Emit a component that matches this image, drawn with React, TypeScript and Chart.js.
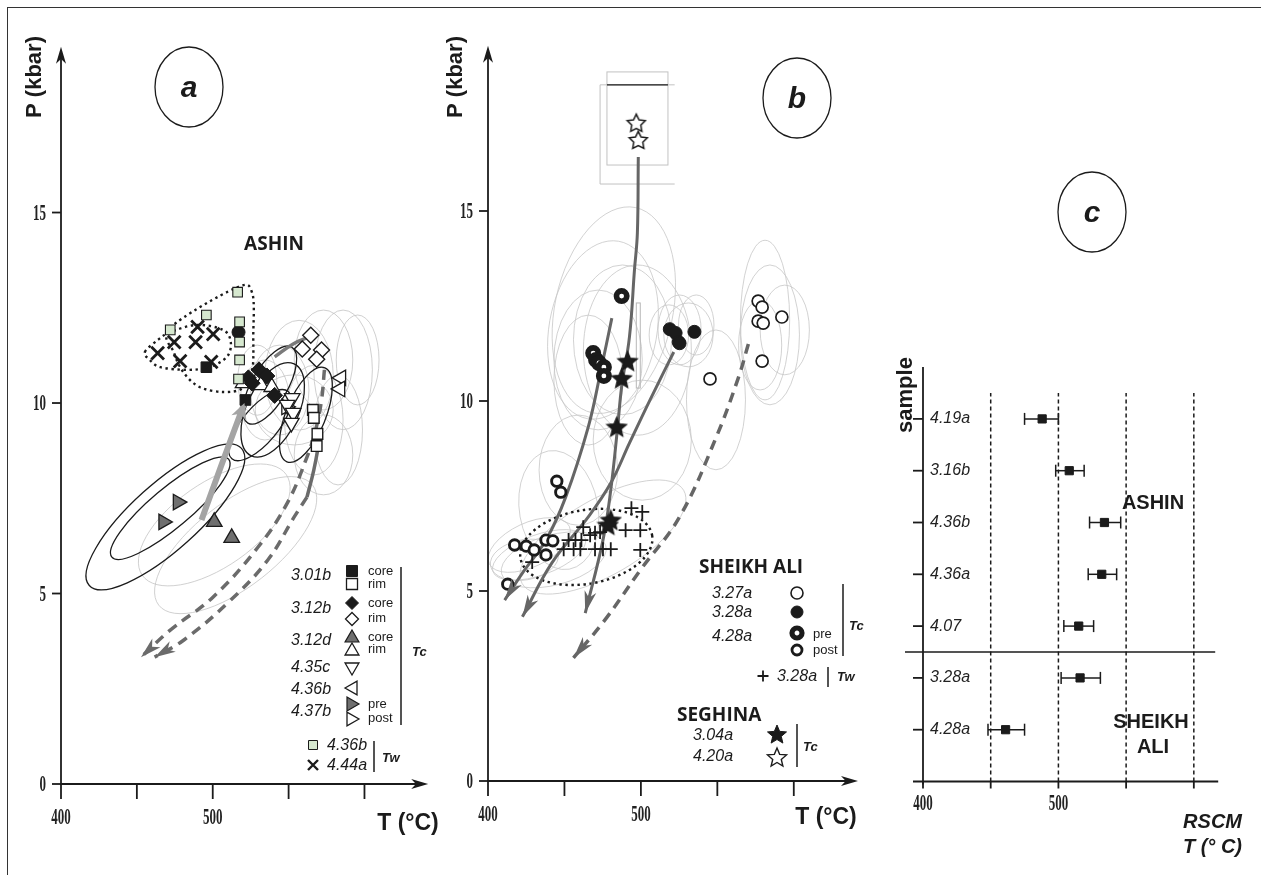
import React, { useEffect, useRef } from "react";
import { Chart, registerables } from "chart.js";

Chart.register(...registerables);

type Pt = [number, number];
type Ell = [number, number, number, number, number]; // T, P, rT(°C), rP(kbar), angle(deg)

/* ---------------- shared axis ticks ---------------- */
const abXTicks = [400, 450, 500, 550, 600];
const abXTickLabels = ["400", "", "500", "", ""];
const abYTicks = [0, 5, 10, 15];
const abYTickLabels = ["0", "5", "10", "15"];

/* ---------------- panel a : ASHIN ---------------- */
const a301bCore: Pt[] = [[495.8, 10.94], [521.5, 10.08]];
const a301bRim: Pt[] = [[566, 9.82], [566.6, 9.61], [569, 9.19], [568.5, 8.87]];
const a312bCore: Pt[] = [[523.5, 10.66], [530.5, 10.87], [535.7, 10.71], [526, 10.52], [540.8, 10.2]];
const a312bRim: Pt[] = [[564.6, 11.78], [559, 11.42], [571.7, 11.39], [568.5, 11.15]];
const a312dCore: Pt[] = [[501, 6.88], [512.5, 6.46]];
const a312dRim: Pt[] = [[520, 10.52], [531.8, 10.47], [538.9, 10.42]];
const a435c: Pt[] = [[552.4, 10.13], [549, 9.95], [553, 9.74], [551.8, 9.48]];
const a436b: Pt[] = [[584.6, 10.66], [584, 10.37]];
const a437bPre: Pt[] = [[477, 7.4], [467.5, 6.88]];
const a437bPost: Pt[] = [[548.5, 9.9]];
const a436bTw: Pt[] = [[516.4, 12.91], [495.8, 12.31], [472, 11.92], [517.7, 12.13], [517.7, 11.6], [517.7, 11.13], [517, 10.63]];
const a444aTw: Pt[] = [[463.7, 11.31], [474.6, 11.6], [490, 12.0], [488.7, 11.6], [500.3, 11.81], [478.5, 11.1], [499, 11.08]];
const aOtherFilled: Pt[] = [[517, 11.86]];

const aPathPrePost: Pt[] = [[492.6, 6.93], [506, 8.4], [520.9, 10.0]];
const aPathDarkShort: Pt[] = [[540.8, 11.21], [553, 11.55], [565.3, 11.76]];
const aPathSolid: Pt[] = [[570.4, 9.03], [566.6, 8.24], [562.1, 7.53]];
const aPathDash1: Pt[] = [[562.1, 7.53], [553.7, 7.01], [536.3, 5.88], [510.6, 4.78], [481, 3.78], [461.7, 3.33]];
const aPathDash2: Pt[] = [[573.6, 10.87], [571.7, 10.08], [567.8, 9.29], [562.1, 8.58], [549.2, 7.38], [529.9, 6.22], [500.3, 4.91], [472, 4.04], [452.7, 3.33]];

const aEllBlack: Ell[] = [
  [468.8, 7.01, 67.5, 0.87, 42],
  [472, 7.24, 50.2, 0.52, 40],
  [537.6, 10.47, 28.9, 0.47, 60],
  [539.5, 9.82, 33.4, 0.68, 65],
  [561.4, 9.69, 33.4, 0.52, 68],
  [531.2, 9.42, 28.9, 0.47, 50],
];
const aEllGray: Ell[] = [
  [556.9, 10.73, 22.5, 1.44, 0],
  [573.0, 11.13, 19.3, 1.31, 0],
  [585.9, 10.87, 19.3, 1.57, 0],
  [544.1, 10.34, 19.3, 1.18, 0],
  [534.4, 10.08, 16.1, 1.05, 0],
  [566.6, 9.55, 19.3, 1.44, 0],
  [582.6, 9.29, 16.1, 1.44, 0],
  [595.5, 11.13, 14.1, 1.18, 0],
  [529.3, 10.6, 12.9, 0.92, 0],
  [553.7, 9.82, 25.7, 0.92, 0],
  [573, 8.64, 19.3, 1.05, 0],
  [501, 6.8, 57.9, 1.1, 35],
  [515.1, 6.27, 64.3, 1.1, 38],
];
const aEnvOuter: Pt[] = [[472.0, 11.97], [515.1, 13.02], [526.0, 12.89], [526.7, 11.73], [526.0, 10.87], [519.6, 10.39], [506.8, 10.29], [491.3, 10.42], [481.0, 10.79], [474.6, 11.31]];
const aEnvInner: Pt[] = [[455.3, 11.34], [463.7, 11.65], [472.0, 11.86], [489.4, 12.05], [506.8, 11.92], [511.9, 11.6], [509.3, 11.21], [497.7, 10.94], [483.0, 10.87], [465.6, 10.94], [458.5, 11.13]];

/* ---------------- panel b : SHEIKH ALI / SEGHINA ---------------- */
const b327a: Pt[] = [[576.7, 12.63], [579.3, 12.47], [576.7, 12.1], [580, 12.05], [592.2, 12.21], [579.3, 11.05], [545.2, 10.58]];
const b328a: Pt[] = [[518.9, 11.89], [522.7, 11.79], [524.7, 11.55], [525.3, 11.52], [535, 11.82]];
const b428aPre: Pt[] = [[487.4, 12.76], [468.8, 11.26], [470.7, 11.08], [472.6, 11.0], [475.8, 10.89], [475.8, 10.66]];
const b428aPost: Pt[] = [[445, 7.89], [447.6, 7.6], [417.4, 6.21], [425, 6.18], [430.2, 6.08], [437.9, 5.95], [437.9, 6.34], [442.4, 6.32], [412.9, 5.18]];
const b328aTw: Pt[] = [
  [462.3, 6.68], [466.8, 6.47], [470, 6.53], [473.3, 6.55], [452.7, 6.34], [457.2, 6.34], [461.1, 6.34],
  [449.5, 6.1], [456, 6.1], [460.4, 6.1], [470, 6.1], [475.2, 6.1], [480.3, 6.1], [490, 6.6], [499.6, 6.6],
  [493.8, 7.18], [500.9, 7.08], [499.6, 6.08], [428.9, 5.76],
];
const b304a: Pt[] = [[491.3, 11.05], [487.4, 10.6], [484.2, 9.32], [480.3, 6.87], [478.4, 6.74]];
const b420a: Pt[] = [[497, 17.32], [498.3, 16.87]];

const bPath1: Pt[] = [[481.0, 12.18], [473.9, 10.82], [465.6, 9.32], [450.8, 7.47], [437.9, 6.34], [422.5, 5.47], [410.9, 4.76]];
const bPath2: Pt[] = [[498.3, 16.42], [497.7, 14.42], [495.8, 13.45], [492.5, 11.68], [487.4, 10.37], [484.8, 9.32], [480.3, 7.66], [475.2, 6.34], [463.6, 4.42]];
const bPath3: Pt[] = [[521.5, 11.29], [506.0, 10.03], [492.5, 8.89], [480.3, 7.84], [465.6, 6.95], [441.8, 5.74], [422.5, 4.32]];
const bPathDash: Pt[] = [[570.3, 11.5], [563.9, 10.63], [549.1, 9.03], [525.3, 6.95], [499.6, 5.55], [476.5, 4.24], [455.9, 3.24]];

const bEllDotted: Ell = [464.3, 6.16, 43.7, 0.97, 10];
const bEllGray: Ell[] = [
  [482.3, 12.39, 38.6, 2.76, -12],
  [475.2, 11.87, 35.3, 2.37, -10],
  [472, 11.08, 28.9, 1.84, 0],
  [488, 11.61, 32.1, 1.97, 0],
  [465.6, 10.55, 22.5, 1.71, 0],
  [497.7, 11.34, 35.3, 2.24, 0],
  [525.3, 11.87, 14.1, 0.92, 0],
  [531.1, 11.74, 16.1, 0.84, 0],
  [518.3, 11.74, 12.9, 0.79, 0],
  [536.2, 12.0, 11.6, 0.79, 0],
  [581.2, 12.13, 16.1, 2.1, 0],
  [584.4, 11.74, 19.3, 1.84, 0],
  [594.1, 11.87, 16.1, 1.18, 0],
  [578, 11.47, 14.1, 1.18, 0],
  [549.1, 10.03, 19.3, 1.84, 0],
  [500.9, 8.97, 32.1, 1.58, 0],
  [459.1, 8.18, 25.7, 1.45, 0],
  [433.4, 5.95, 32.1, 0.53, 20],
  [427, 6.21, 28.9, 0.58, 25],
  [443, 5.82, 35.3, 0.66, 15],
  [423.8, 5.82, 22.5, 0.53, 10],
  [475.2, 6.42, 61, 1.0, 30],
  [446.3, 7.13, 25.7, 1.58, 10],
];
const bBoxInner = { t0: 477.8, t1: 517.7, p0: 16.21, p1: 18.66 };
const bBoxOuter = { t0: 473.3, t1: 522.1, p0: 15.71, p1: 18.32 };
const bBar = { t0: 497, t1: 499.6, p0: 10.34, p1: 12.58 };

/* ---------------- panel c : RSCM ---------------- */
const cSamples = ["4.19a", "3.16b", "4.36b", "4.36a", "4.07", "3.28a", "4.28a"];
const cRows = [7, 6, 5, 4, 3, 2, 1];
const cT = [488, 508, 534, 532, 515, 516, 461];
const cTmin = [475, 498, 523, 522, 504, 502, 448];
const cTmax = [500, 519, 546, 543, 526, 531, 475];
const cXTicks = [400, 450, 500, 550, 600];
const cXTickLabels = ["400", "", "500", "", ""];
const cGridT = [450, 500, 550, 600];

/* ---------------- helpers ---------------- */
const SANS = '"Liberation Sans", Arial, sans-serif';
const OPEN = '"Open Sans", sans-serif';
const INK = "#1b1b1b";

const xy = (a: Pt[]) => a.map(([x, y]) => ({ x, y }));

function P(chart: any, t: number, p: number): [number, number] {
  return [chart.scales.x.getPixelForValue(t), chart.scales.y.getPixelForValue(p)];
}

function strokeEll(ctx: CanvasRenderingContext2D, chart: any, e: Ell) {
  const [t, p, rt, rp, ang] = e;
  const [cx, cy] = P(chart, t, p);
  const sx = Math.abs(chart.scales.x.getPixelForValue(t + rt) - cx);
  const sy = Math.abs(chart.scales.y.getPixelForValue(p + rp) - cy);
  ctx.beginPath();
  ctx.ellipse(cx, cy, sx, sy, (-ang * Math.PI) / 180, 0, Math.PI * 2);
  ctx.stroke();
}

function closedCurve(ctx: CanvasRenderingContext2D, pts: [number, number][]) {
  const n = pts.length;
  ctx.beginPath();
  ctx.moveTo(pts[0][0], pts[0][1]);
  for (let i = 0; i < n; i++) {
    const p0 = pts[(i - 1 + n) % n], p1 = pts[i], p2 = pts[(i + 1) % n], p3 = pts[(i + 2) % n];
    ctx.bezierCurveTo(
      p1[0] + (p2[0] - p0[0]) / 6, p1[1] + (p2[1] - p0[1]) / 6,
      p2[0] - (p3[0] - p1[0]) / 6, p2[1] - (p3[1] - p1[1]) / 6,
      p2[0], p2[1]
    );
  }
  ctx.closePath();
}

function arrowHead(ctx: CanvasRenderingContext2D, from: [number, number], tip: [number, number], len: number, half: number, color: string) {
  const dx = tip[0] - from[0], dy = tip[1] - from[1];
  const d = Math.hypot(dx, dy) || 1;
  const ux = dx / d, uy = dy / d, nx = -uy, ny = ux;
  const bx = tip[0] - ux * len, by = tip[1] - uy * len;
  const notch = len * 0.28;
  ctx.beginPath();
  ctx.moveTo(tip[0], tip[1]);
  ctx.lineTo(bx + nx * half, by + ny * half);
  ctx.lineTo(tip[0] - ux * (len - notch), tip[1] - uy * (len - notch));
  ctx.lineTo(bx - nx * half, by - ny * half);
  ctx.closePath();
  ctx.fillStyle = color;
  ctx.fill();
}

function pathArrow(ctx: CanvasRenderingContext2D, chart: any, path: Pt[], len: number, half: number, color: string) {
  const n = path.length;
  const a = P(chart, path[n - 2][0], path[n - 2][1]);
  const b = P(chart, path[n - 1][0], path[n - 1][1]);
  arrowHead(ctx, a, b, len, half, color);
}

function txt(ctx: CanvasRenderingContext2D, s: string, x: number, y: number, font: string, align: CanvasTextAlign = "left", color = INK) {
  ctx.font = font;
  ctx.textAlign = align;
  ctx.textBaseline = "middle";
  ctx.fillStyle = color;
  ctx.fillText(s, x, y);
}

function condText(ctx: CanvasRenderingContext2D, s: string, x: number, y: number, align: CanvasTextAlign) {
  ctx.save();
  ctx.translate(x, y);
  ctx.scale(0.54, 1);
  ctx.font = 'bold 24px "Liberation Serif", serif';
  ctx.textAlign = align;
  ctx.textBaseline = "middle";
  ctx.fillStyle = "#222";
  ctx.fillText(s, 0, 0);
  ctx.restore();
}

function seg(ctx: CanvasRenderingContext2D, x1: number, y1: number, x2: number, y2: number) {
  ctx.beginPath();
  ctx.moveTo(x1, y1);
  ctx.lineTo(x2, y2);
  ctx.stroke();
}

function shape(ctx: CanvasRenderingContext2D, kind: string, x: number, y: number, r: number, fill: string | null, stroke: string | null, lw: number, rot = 0) {
  ctx.save();
  ctx.translate(x, y);
  ctx.rotate((rot * Math.PI) / 180);
  ctx.beginPath();
  if (kind === "rect") ctx.rect(-r, -r, 2 * r, 2 * r);
  else if (kind === "diamond") { ctx.moveTo(0, -r); ctx.lineTo(r, 0); ctx.lineTo(0, r); ctx.lineTo(-r, 0); ctx.closePath(); }
  else if (kind === "tri") {
    for (let i = 0; i < 3; i++) {
      const a = -Math.PI / 2 + (i * 2 * Math.PI) / 3;
      if (i === 0) ctx.moveTo(r * Math.cos(a), r * Math.sin(a)); else ctx.lineTo(r * Math.cos(a), r * Math.sin(a));
    }
    ctx.closePath();
  } else if (kind === "circle") ctx.arc(0, 0, r, 0, Math.PI * 2);
  else if (kind === "star") {
    for (let i = 0; i < 10; i++) {
      const rr = i % 2 ? r * 0.45 : r;
      const a = -Math.PI / 2 + (i * Math.PI) / 5;
      if (i === 0) ctx.moveTo(rr * Math.cos(a), rr * Math.sin(a)); else ctx.lineTo(rr * Math.cos(a), rr * Math.sin(a));
    }
    ctx.closePath();
  } else if (kind === "x") { ctx.moveTo(-r, -r); ctx.lineTo(r, r); ctx.moveTo(r, -r); ctx.lineTo(-r, r); }
  else if (kind === "plus") { ctx.moveTo(-r, 0); ctx.lineTo(r, 0); ctx.moveTo(0, -r); ctx.lineTo(0, r); }
  if (fill) { ctx.fillStyle = fill; ctx.fill(); }
  if (stroke) { ctx.strokeStyle = stroke; ctx.lineWidth = lw; ctx.stroke(); }
  ctx.restore();
}

function starImage(size: number, fill: string, stroke: string, inner: number, lw: number) {
  const c = document.createElement("canvas");
  c.width = size;
  c.height = size;
  const ctx = c.getContext("2d")!;
  const R = size / 2 - lw;
  ctx.beginPath();
  for (let i = 0; i < 10; i++) {
    const rr = i % 2 ? R * inner : R;
    const a = -Math.PI / 2 + (i * Math.PI) / 5;
    const px = size / 2 + rr * Math.cos(a), py = size / 2 + 0.8 + rr * Math.sin(a);
    if (i === 0) ctx.moveTo(px, py); else ctx.lineTo(px, py);
  }
  ctx.closePath();
  ctx.fillStyle = fill;
  ctx.fill();
  ctx.lineWidth = lw;
  ctx.lineJoin = "miter";
  ctx.strokeStyle = stroke;
  ctx.stroke();
  return c;
}

function drawAxesAB(ctx: CanvasRenderingContext2D, chart: any) {
  const xs = chart.scales.x, ys = chart.scales.y;
  const x0 = xs.getPixelForValue(400), y0 = ys.getPixelForValue(0);
  ctx.save();
  ctx.strokeStyle = INK;
  ctx.lineWidth = 1.8;
  seg(ctx, x0, y0 + 1, x0, ys.top + 10);
  seg(ctx, x0 - 1, y0, xs.right - 10, y0);
  arrowHead(ctx, [x0, y0], [x0, ys.top], 17, 5, INK);
  arrowHead(ctx, [x0, y0], [xs.right, y0], 17, 5, INK);
  abYTicks.forEach((v, i) => {
    const y = ys.getPixelForValue(v);
    seg(ctx, x0 - 9, y, x0, y);
    condText(ctx, abYTickLabels[i], x0 - 15, y + 1, "right");
  });
  abXTicks.forEach((v, i) => {
    const x = xs.getPixelForValue(v);
    seg(ctx, x, y0, x, y0 + 15);
    if (abXTickLabels[i]) condText(ctx, abXTickLabels[i], x, y0 + 34, "center");
  });
  ctx.restore();
}

function ellipseLabel(ctx: CanvasRenderingContext2D, cx: number, cy: number, letter: string) {
  ctx.save();
  ctx.strokeStyle = INK;
  ctx.lineWidth = 1.3;
  ctx.beginPath();
  ctx.ellipse(cx, cy, 34, 40, 0, 0, Math.PI * 2);
  ctx.stroke();
  txt(ctx, letter, cx, cy + 2, `italic bold 30px ${SANS}`, "center");
  ctx.restore();
}

function baseOptions(xMax: number, yMax: number, padding: any) {
  return {
    responsive: false,
    animation: false,
    devicePixelRatio: 1,
    events: [],
    layout: { padding },
    plugins: { legend: { display: false }, tooltip: { enabled: false } },
    scales: {
      x: { type: "linear", min: 400, max: xMax, display: false },
      y: { type: "linear", min: 0, max: yMax, display: false },
    },
  };
}

function pts(data: Pt[], o: any) {
  return { type: "scatter", data: xy(data), showLine: false, clip: false, order: 0, pointHoverRadius: 0, ...o };
}
function line(data: Pt[], o: any) {
  return {
    type: "scatter", data: xy(data), showLine: true, pointRadius: 0, pointHoverRadius: 0,
    tension: 0.4, fill: false, clip: false, order: 5, borderCapStyle: "butt", ...o,
  };
}

/* ---------------- panel a config ---------------- */
function buildA() {
  const plugin = {
    id: "panelA",
    beforeDatasetsDraw(chart: any) {
      const ctx = chart.ctx as CanvasRenderingContext2D;
      ctx.save();
      ctx.strokeStyle = "#c4c4c4";
      ctx.lineWidth = 0.8;
      aEllGray.forEach((e) => strokeEll(ctx, chart, e));
      ctx.strokeStyle = INK;
      ctx.lineWidth = 1.3;
      aEllBlack.forEach((e) => strokeEll(ctx, chart, e));
      ctx.setLineDash([2.4, 3.6]);
      ctx.lineWidth = 2.4;
      [aEnvOuter, aEnvInner].forEach((env) => {
        closedCurve(ctx, env.map(([t, p]) => P(chart, t, p)));
        ctx.stroke();
      });
      ctx.setLineDash([]);
      ctx.restore();
      drawAxesAB(ctx, chart);
    },
    afterDatasetsDraw(chart: any) {
      const ctx = chart.ctx as CanvasRenderingContext2D;
      ctx.save();
      pathArrow(ctx, chart, aPathDash1, 21, 6, "#6b6b6b");
      pathArrow(ctx, chart, aPathDash2, 21, 6, "#6b6b6b");
      pathArrow(ctx, chart, aPathPrePost, 16, 8, "#a4a4a4");

      // titles
      ctx.save();
      ctx.translate(35, 77);
      ctx.rotate(-Math.PI / 2);
      txt(ctx, "P (kbar)", 0, 0, `bold 22px ${SANS}`, "center");
      ctx.restore();
      txt(ctx, "T (°C)", 408, 824, `bold 23px ${SANS}`, "center");
      txt(ctx, "ASHIN", 274, 245, `bold 19px ${OPEN}`, "center");
      ellipseLabel(ctx, 189, 87, "a");

      // legend
      const it = `italic 16px ${SANS}`, sm = `13px ${SANS}`, bi = `italic bold 13px ${SANS}`;
      txt(ctx, "3.01b", 291, 576, it);
      shape(ctx, "rect", 352, 571, 5.5, INK, INK, 1);
      shape(ctx, "rect", 352, 584, 5.5, "#fff", INK, 1.3);
      txt(ctx, "core", 368, 571, sm); txt(ctx, "rim", 368, 584, sm);
      txt(ctx, "3.12b", 291, 609, it);
      shape(ctx, "diamond", 352, 603, 6.5, INK, INK, 1);
      shape(ctx, "diamond", 352, 619, 6.5, "#fff", INK, 1.3);
      txt(ctx, "core", 368, 603, sm); txt(ctx, "rim", 368, 618, sm);
      txt(ctx, "3.12d", 291, 641, it);
      shape(ctx, "tri", 352, 638, 8, "#6f6f6f", INK, 1.2);
      shape(ctx, "tri", 352, 651, 8, "#fff", INK, 1.3);
      txt(ctx, "core", 368, 637, sm); txt(ctx, "rim", 368, 649, sm);
      txt(ctx, "4.35c", 291, 668, it);
      shape(ctx, "tri", 352, 667, 8, "#fff", INK, 1.3, 180);
      txt(ctx, "4.36b", 291, 690, it);
      shape(ctx, "tri", 353, 688, 8, "#fff", INK, 1.3, 270);
      txt(ctx, "4.37b", 291, 712, it);
      shape(ctx, "tri", 351, 704, 8, "#6f6f6f", INK, 1.2, 90);
      shape(ctx, "tri", 351, 719, 8, "#fff", INK, 1.3, 90);
      txt(ctx, "pre", 368, 704, sm); txt(ctx, "post", 368, 718, sm);
      ctx.strokeStyle = INK; ctx.lineWidth = 1.5;
      seg(ctx, 401, 567, 401, 725);
      txt(ctx, "Tc", 412, 652, bi);
      shape(ctx, "rect", 313, 745, 4.5, "#d6e8cf", INK, 1);
      txt(ctx, "4.36b", 327, 746, it);
      shape(ctx, "x", 313, 765, 5, null, INK, 2.4);
      txt(ctx, "4.44a", 327, 766, it);
      ctx.strokeStyle = INK; ctx.lineWidth = 1.5;
      seg(ctx, 374, 741, 374, 772);
      txt(ctx, "Tw", 382, 758, bi);
      ctx.restore();
    },
  };

  const tri = { pointStyle: "triangle", pointRadius: 9, pointBorderColor: INK, pointBorderWidth: 1.3 };
  return {
    type: "scatter",
    data: {
      datasets: [
        pts(a436bTw, { pointStyle: "rect", pointRadius: 6.8, pointBackgroundColor: "#d6e8cf", pointBorderColor: INK, pointBorderWidth: 1.1 }),
        pts(a444aTw, { pointStyle: "crossRot", pointRadius: 9, pointBorderColor: INK, pointBorderWidth: 2.8 }),
        pts(aOtherFilled, { pointStyle: "circle", pointRadius: 6.5, pointBackgroundColor: INK, pointBorderColor: INK, pointBorderWidth: 1 }),
        pts(a301bCore, { pointStyle: "rect", pointRadius: 7.5, pointBackgroundColor: INK, pointBorderColor: INK, pointBorderWidth: 1 }),
        pts(a312bCore, { pointStyle: "rectRot", pointRadius: 8, pointBackgroundColor: INK, pointBorderColor: INK, pointBorderWidth: 1 }),
        pts(a312dRim, { ...tri, pointBackgroundColor: "#fff" }),
        pts(a435c, { ...tri, pointRotation: 180, pointBackgroundColor: "#fff" }),
        pts(a437bPost, { ...tri, pointRotation: 90, pointBackgroundColor: "#fff" }),
        pts(a301bRim, { pointStyle: "rect", pointRadius: 7.5, pointBackgroundColor: "#fff", pointBorderColor: INK, pointBorderWidth: 1.4 }),
        pts(a312bRim, { pointStyle: "rectRot", pointRadius: 8, pointBackgroundColor: "#fff", pointBorderColor: INK, pointBorderWidth: 1.4 }),
        pts(a436b, { ...tri, pointRotation: 270, pointBackgroundColor: "#fff" }),
        pts(a312dCore, { ...tri, pointBackgroundColor: "#6f6f6f" }),
        pts(a437bPre, { ...tri, pointRotation: 90, pointBackgroundColor: "#6f6f6f" }),
        line(aPathPrePost, { borderColor: "#a4a4a4", borderWidth: 6 }),
        line(aPathDarkShort, { borderColor: "#7a7a7a", borderWidth: 3.5 }),
        line(aPathSolid, { borderColor: "#6b6b6b", borderWidth: 3.5 }),
        line(aPathDash1, { borderColor: "#6b6b6b", borderWidth: 3.5, borderDash: [10, 7] }),
        line(aPathDash2, { borderColor: "#6b6b6b", borderWidth: 3.5, borderDash: [10, 7] }),
      ],
    },
    options: baseOptions(642, 19.35, { left: 61, right: 2.7, top: 46.8, bottom: 91 }),
    plugins: [plugin],
  };
}

/* ---------------- panel b config ---------------- */
const B_LEFT = 430;
function buildB() {
  const plugin = {
    id: "panelB",
    beforeDatasetsDraw(chart: any) {
      const ctx = chart.ctx as CanvasRenderingContext2D;
      ctx.save();
      ctx.strokeStyle = "#c6c6c6";
      ctx.lineWidth = 0.8;
      bEllGray.forEach((e) => strokeEll(ctx, chart, e));
      // boxes
      ctx.strokeStyle = "#c2c2c2";
      ctx.lineWidth = 1;
      const [ix0, iy1] = P(chart, bBoxInner.t0, bBoxInner.p1);
      const [ix1, iy0] = P(chart, bBoxInner.t1, bBoxInner.p0);
      ctx.strokeRect(ix0, iy1, ix1 - ix0, iy0 - iy1);
      const [ox0, oy1] = P(chart, bBoxOuter.t0, bBoxOuter.p1);
      const [ox1, oy0] = P(chart, bBoxOuter.t1, bBoxOuter.p0);
      ctx.beginPath();
      ctx.moveTo(ox1, oy1); ctx.lineTo(ox0, oy1); ctx.lineTo(ox0, oy0); ctx.lineTo(ox1, oy0);
      ctx.stroke();
      ctx.strokeStyle = INK;
      ctx.lineWidth = 1.2;
      seg(ctx, ix0, oy1, ix1, oy1);
      ctx.strokeStyle = "#b8b8b8";
      ctx.lineWidth = 1;
      const [bx0, by1] = P(chart, bBar.t0, bBar.p1);
      const [bx1, by0] = P(chart, bBar.t1, bBar.p0);
      ctx.strokeRect(bx0, by1, bx1 - bx0, by0 - by1);
      // dotted Tw envelope
      ctx.strokeStyle = INK;
      ctx.setLineDash([2.4, 3.6]);
      ctx.lineWidth = 2.4;
      strokeEll(ctx, chart, bEllDotted);
      ctx.setLineDash([]);
      ctx.restore();
      drawAxesAB(ctx, chart);
    },
    afterDatasetsDraw(chart: any) {
      const ctx = chart.ctx as CanvasRenderingContext2D;
      ctx.save();
      [bPath1, bPath2, bPath3, bPathDash].forEach((p) => pathArrow(ctx, chart, p, 22, 6, "#666"));
      ctx.translate(-B_LEFT, 0);
      ctx.save();
      ctx.translate(456, 77);
      ctx.rotate(-Math.PI / 2);
      txt(ctx, "P (kbar)", 0, 0, `bold 22px ${SANS}`, "center");
      ctx.restore();
      txt(ctx, "T (°C)", 826, 818, `bold 23px ${SANS}`, "center");
      ellipseLabel(ctx, 797, 98, "b");

      const it = `italic 16px ${SANS}`, sm = `13px ${SANS}`, bi = `italic bold 13px ${SANS}`;
      txt(ctx, "SHEIKH ALI", 699, 568, `bold 19px ${OPEN}`);
      txt(ctx, "3.27a", 712, 594, it);
      shape(ctx, "circle", 797, 593, 6, "#fff", INK, 1.6);
      txt(ctx, "3.28a", 712, 613, it);
      shape(ctx, "circle", 797, 612, 6, INK, INK, 1);
      txt(ctx, "4.28a", 712, 637, it);
      shape(ctx, "circle", 797, 633, 5, "#fff", INK, 5.2);
      shape(ctx, "circle", 797, 650, 5, "#fff", INK, 2.8);
      txt(ctx, "pre", 813, 634, sm);
      txt(ctx, "post", 813, 650, sm);
      ctx.strokeStyle = INK; ctx.lineWidth = 1.5;
      seg(ctx, 843, 584, 843, 656);
      txt(ctx, "Tc", 849, 626, bi);
      shape(ctx, "plus", 763, 676, 5.5, null, INK, 1.8);
      txt(ctx, "3.28a", 777, 677, it);
      ctx.strokeStyle = INK; ctx.lineWidth = 1.5;
      seg(ctx, 828, 667, 828, 687);
      txt(ctx, "Tw", 837, 677, bi);
      txt(ctx, "SEGHINA", 677, 716, `bold 19px ${OPEN}`);
      txt(ctx, "3.04a", 693, 736, it);
      shape(ctx, "star", 777, 735, 10, INK, INK, 1);
      txt(ctx, "4.20a", 693, 757, it);
      shape(ctx, "star", 777, 758, 10, "#fff", INK, 1.4);
      ctx.strokeStyle = INK; ctx.lineWidth = 1.5;
      seg(ctx, 797, 724, 797, 767);
      txt(ctx, "Tc", 803, 747, bi);
      ctx.restore();
    },
  };

  const blackStar = starImage(23, INK, INK, 0.45, 1.2);
  const whiteStar = starImage(22, "#fff", INK, 0.5, 1.5);
  return {
    type: "scatter",
    data: {
      datasets: [
        pts(b304a, { pointStyle: blackStar, pointRadius: 11 }),
        pts(b420a, { pointStyle: whiteStar, pointRadius: 11 }),
        pts(b328aTw, { pointStyle: "cross", pointRadius: 7, pointBorderColor: INK, pointBorderWidth: 1.8 }),
        pts(b428aPre, { pointStyle: "circle", pointRadius: 5.2, pointBackgroundColor: "#fff", pointBorderColor: INK, pointBorderWidth: 5.6 }),
        pts(b428aPost, { pointStyle: "circle", pointRadius: 5.2, pointBackgroundColor: "#fff", pointBorderColor: INK, pointBorderWidth: 2.9 }),
        pts(b328a, { pointStyle: "circle", pointRadius: 6.5, pointBackgroundColor: INK, pointBorderColor: INK, pointBorderWidth: 1 }),
        pts(b327a, { pointStyle: "circle", pointRadius: 6, pointBackgroundColor: "#fff", pointBorderColor: INK, pointBorderWidth: 1.7 }),
        line(bPath1, { borderColor: "#666", borderWidth: 3 }),
        line(bPath2, { borderColor: "#666", borderWidth: 3 }),
        line(bPath3, { borderColor: "#666", borderWidth: 3 }),
        line(bPathDash, { borderColor: "#666", borderWidth: 3.5, borderDash: [10, 7] }),
      ],
    },
    options: baseOptions(642, 19.35, { left: 58, right: 5.4, top: 45.7, bottom: 94 }),
    plugins: [plugin],
  };
}

/* ---------------- panel c config ---------------- */
const C_LEFT = 860;
function buildC() {
  const plugin = {
    id: "panelC",
    beforeDatasetsDraw(chart: any) {
      const ctx = chart.ctx as CanvasRenderingContext2D;
      const xs = chart.scales.x, ys = chart.scales.y;
      const x0 = xs.getPixelForValue(400), y0 = ys.getPixelForValue(0);
      ctx.save();
      ctx.strokeStyle = INK;
      // dashed verticals
      ctx.setLineDash([4, 3]);
      ctx.lineWidth = 1.5;
      cGridT.forEach((t) => {
        const x = xs.getPixelForValue(t);
        seg(ctx, x, y0, x, ys.getPixelForValue(7.5));
      });
      ctx.setLineDash([]);
      // separator between ASHIN and SHEIKH ALI
      ctx.lineWidth = 1.5;
      const ySep = ys.getPixelForValue(2.5);
      seg(ctx, x0 - 18, ySep, xs.right - 3, ySep);
      // axes
      ctx.lineWidth = 1.8;
      seg(ctx, x0, y0 + 3, x0, ys.top);
      seg(ctx, x0 - 10, y0, xs.right, y0);
      cRows.forEach((r, i) => {
        const y = ys.getPixelForValue(r);
        seg(ctx, x0 - 10, y, x0, y);
        txt(ctx, cSamples[i], x0 + 7, y, `italic 16px ${SANS}`, "left", "#222");
      });
      cXTicks.forEach((v, i) => {
        const x = xs.getPixelForValue(v);
        seg(ctx, x, y0, x, y0 + 7);
        if (cXTickLabels[i]) condText(ctx, cXTickLabels[i], x, y0 + 22, "center");
      });
      // error bars
      ctx.lineWidth = 1.5;
      cRows.forEach((r, i) => {
        const y = ys.getPixelForValue(r);
        const xa = xs.getPixelForValue(cTmin[i]), xb = xs.getPixelForValue(cTmax[i]);
        seg(ctx, xa, y, xb, y);
        seg(ctx, xa, y - 6, xa, y + 6);
        seg(ctx, xb, y - 6, xb, y + 6);
      });
      ctx.restore();
    },
    afterDatasetsDraw(chart: any) {
      const ctx = chart.ctx as CanvasRenderingContext2D;
      ctx.save();
      ctx.translate(-C_LEFT, 0);
      ellipseLabel(ctx, 1092, 212, "c");
      ctx.save();
      ctx.translate(906, 395);
      ctx.rotate(-Math.PI / 2);
      txt(ctx, "sample", 0, 0, `bold 22px ${SANS}`, "center");
      ctx.restore();
      const b = `bold 20px ${SANS}`;
      txt(ctx, "ASHIN", 1153, 503, b, "center");
      txt(ctx, "SHEIKH", 1151, 722, b, "center");
      txt(ctx, "ALI", 1153, 747, b, "center");
      const bi = `italic bold 20px ${SANS}`;
      txt(ctx, "RSCM", 1242, 822, bi, "right");
      txt(ctx, "T (° C)", 1242, 847, bi, "right");
      ctx.restore();
    },
  };
  return {
    type: "scatter",
    data: {
      datasets: [
        {
          data: cT.map((t, i) => ({ x: t, y: cRows[i] })),
          showLine: false,
          clip: false,
          pointStyle: "rect",
          pointRadius: 5.8,
          pointHoverRadius: 0,
          pointBackgroundColor: INK,
          pointBorderColor: INK,
          pointBorderWidth: 1,
        },
      ],
    },
    options: baseOptions(618, 8, { left: 63, right: 42.8, top: 367.1, bottom: 93.5 }),
    plugins: [plugin],
  };
}

/* ---------------- React ---------------- */
function Panel({ left, width, build }: { left: number; width: number; build: () => any }) {
  const ref = useRef<HTMLCanvasElement | null>(null);
  useEffect(() => {
    if (!ref.current) return;
    const chart = new Chart(ref.current, build());
    return () => chart.destroy();
  }, []);
  return (
    <canvas
      ref={ref}
      width={width}
      height={875}
      style={{ position: "absolute", left, top: 0, width, height: 875, display: "block" }}
    />
  );
}

export default function App() {
  return (
    <div style={{ position: "absolute", left: 0, top: 0, width: 1261, height: 875, overflow: "hidden", background: "#fff" }}>
      <div
        style={{
          position: "absolute", left: 7, top: 7, width: 1300, height: 900,
          borderLeft: "1.5px solid #333", borderTop: "1.5px solid #333",
        }}
      />
      <Panel left={0} width={440} build={buildA} />
      <Panel left={B_LEFT} width={440} build={buildB} />
      <Panel left={C_LEFT} width={401} build={buildC} />
    </div>
  );
}
